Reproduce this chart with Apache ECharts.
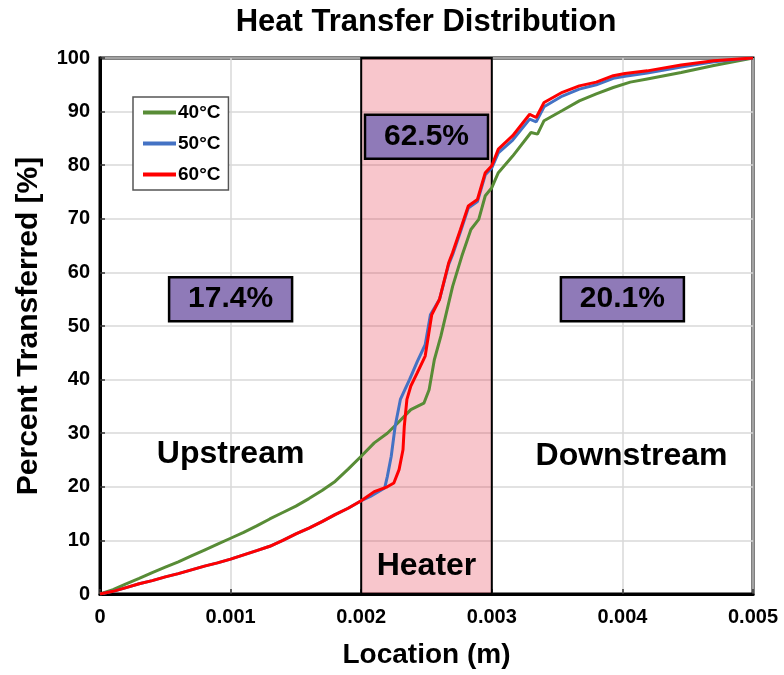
<!DOCTYPE html>
<html>
<head>
<meta charset="utf-8">
<script src="https://cdn.jsdelivr.net/npm/echarts@6/dist/echarts.min.js"></script>
<style>
  html, body { margin: 0; padding: 0; background: #fff; }
  #chart { width: 784px; height: 675px; }
</style>
</head>
<body>
<div id="chart"></div>
<script>
// data
const seriesNames = ['40°C', '50°C', '60°C'];

const loc40 = [0, 0.0001, 0.0002, 0.0003, 0.0004, 0.0005, 0.0006, 0.0007, 0.0008, 0.0009, 0.001,
  0.0011, 0.0012, 0.0013, 0.0014, 0.0015, 0.0016, 0.0017, 0.0018, 0.0019, 0.002,
  0.0021, 0.0022, 0.00228, 0.00238, 0.00248, 0.00252, 0.00256, 0.00261, 0.0027, 0.00277, 0.00284, 0.0029, 0.00295, 0.003,
  0.00305, 0.00316, 0.0033, 0.00335, 0.0034, 0.00354, 0.00367, 0.0038, 0.00393, 0.00406, 0.00419, 0.00432, 0.00445, 0.0047, 0.005];
const pct40 = [0, 0.8, 1.9, 2.9, 4.0, 5.0, 6.0, 7.1, 8.2, 9.3, 10.4,
  11.5, 12.7, 14.0, 15.2, 16.4, 17.8, 19.3, 21.0, 23.3, 25.7,
  28.2, 30.0, 31.9, 34.4, 35.6, 38.1, 43.7, 48.1, 57.4, 63.0, 68.0, 69.9, 74.3, 75.8,
  78.6, 81.7, 86.1, 85.8, 88.3, 90.2, 92.0, 93.3, 94.5, 95.5, 96.1, 96.7, 97.3, 98.6, 100];

const loc50 = [0, 0.0001, 0.0002, 0.0003, 0.0004, 0.0005, 0.0006, 0.0007, 0.0008, 0.0009, 0.001,
  0.0011, 0.0012, 0.0013, 0.0014, 0.0015, 0.0016, 0.0017, 0.0018, 0.0019, 0.002,
  0.00207, 0.00218, 0.0022, 0.00223, 0.00226, 0.0023, 0.00237, 0.00243, 0.00249, 0.00253, 0.0026, 0.00267, 0.0027, 0.00276, 0.00282, 0.00289, 0.00295, 0.003,
  0.00305, 0.00316, 0.00329, 0.00334, 0.0034, 0.00354, 0.00367, 0.0038, 0.00393, 0.00402, 0.00419, 0.00445, 0.0047, 0.005];
const pct50 = [0, 0.5, 1.2, 1.9, 2.5, 3.2, 3.8, 4.5, 5.2, 5.8, 6.5,
  7.3, 8.1, 8.9, 10.0, 11.2, 12.3, 13.5, 14.8, 16.0, 17.4,
  18.2, 19.8, 21.9, 25.7, 31.3, 36.3, 40.0, 43.4, 46.5, 52.1, 55.0, 61.5, 63.3, 67.6, 72.0, 73.2, 78.2, 79.5,
  82.3, 84.7, 88.6, 88.1, 90.9, 92.9, 94.2, 95.0, 96.2, 96.6, 97.2, 98.3, 99.3, 100];

const loc60 = [0, 0.0001, 0.0002, 0.0003, 0.0004, 0.0005, 0.0006, 0.0007, 0.0008, 0.0009, 0.001,
  0.0011, 0.0012, 0.0013, 0.0014, 0.0015, 0.0016, 0.0017, 0.0018, 0.0019, 0.002,
  0.0021, 0.0022, 0.00225, 0.00229, 0.00232, 0.00233, 0.00235, 0.00238, 0.00243, 0.00249, 0.00254, 0.0026, 0.00267, 0.0027, 0.00276, 0.00282, 0.00289, 0.00295, 0.003,
  0.00305, 0.00316, 0.00329, 0.00334, 0.0034, 0.00354, 0.00367, 0.0038, 0.00393, 0.00402, 0.00419, 0.00445, 0.0047, 0.005];
const pct60 = [0, 0.5, 1.2, 1.9, 2.5, 3.2, 3.8, 4.5, 5.2, 5.8, 6.5,
  7.3, 8.1, 8.9, 10.0, 11.2, 12.3, 13.5, 14.8, 16.0, 17.4,
  19.1, 20.0, 20.7, 23.2, 26.9, 31.3, 36.3, 38.8, 41.3, 44.4, 52.1, 55.0, 61.8, 63.7, 68.0, 72.4, 73.6, 78.6, 79.9,
  83.0, 85.5, 89.5, 88.9, 91.7, 93.6, 94.8, 95.5, 96.7, 97.1, 97.6, 98.7, 99.5, 100];

const heaterRange = [0.002, 0.003];
const boxLabels = ['17.4%', '62.5%', '20.1%'];
const boxAt = [[0.001, 55], [0.0025, 85.3], [0.004, 55]];
const regionLabels = ['Upstream', 'Downstream', 'Heater'];
const regionAt = [[0.001, 26], [0.00407, 25.8], [0.0025, 5.2]];

const FONT = '"Liberation Sans", Arial, sans-serif';
const colors = ['#588c36', '#4472c4', '#ff0000'];

function pairs(xs, ys) {
  return xs.map((x, i) => [x, ys[i]]);
}

const myChart = echarts.init(document.getElementById('chart'));

function lineSeries(name, xs, ys, color) {
  return {
    name: name,
    type: 'line',
    z: 3,
    showSymbol: false,
    symbol: 'none',
    smooth: false,
    lineStyle: { color: color, width: 3 },
    itemStyle: { color: color },
    data: pairs(xs, ys)
  };
}

const options = {
  animation: false,
  title: {
    text: 'Heat Transfer Distribution',
    left: 421,
    textAlign: 'center',
    top: 2,
    textStyle: { fontFamily: FONT, fontWeight: 'bold', fontSize: 31, color: '#000' }
  },
  legend: {
    orient: 'vertical',
    left: 133,
    top: 97,
    padding: [6, 8, 6, 10],
    itemGap: 12,
    itemWidth: 33,
    itemHeight: 4,
    icon: 'rect',
    backgroundColor: '#fff',
    borderColor: '#555',
    borderWidth: 1.5,
    textStyle: { fontFamily: FONT, fontWeight: 'bold', fontSize: 19, color: '#000', padding: [0, 0, 0, -3] },
    data: seriesNames
  },
  grid: {
    left: 100,
    right: 31,
    top: 58,
    bottom: 81,
    show: true,
    borderColor: '#000',
    borderWidth: 3
  },
  xAxis: {
    type: 'value',
    min: 0,
    max: 0.005,
    interval: 0.001,
    name: 'Location (m)',
    nameLocation: 'middle',
    nameGap: 47,
    nameTextStyle: { fontFamily: FONT, fontWeight: 'bold', fontSize: 28, color: '#000' },
    axisLine: { show: true, lineStyle: { color: '#000', width: 3 } },
    axisTick: { show: true, inside: true, length: 5, lineStyle: { color: '#333', width: 1.5 } },
    axisLabel: {
      margin: 13,
      fontFamily: FONT, fontWeight: 'bold', fontSize: 20, color: '#000',
      formatter: function (v) { return v === 0 ? '0' : v.toFixed(3); }
    },
    splitLine: { show: true, lineStyle: { color: '#d9d9d9', width: 1.5 } }
  },
  yAxis: {
    type: 'value',
    min: 0,
    max: 100,
    interval: 10,
    name: 'Percent Transferred [%]',
    nameLocation: 'middle',
    nameGap: 56,
    nameTextStyle: { fontFamily: FONT, fontWeight: 'bold', fontSize: 30, color: '#000' },
    axisLine: { show: true, lineStyle: { color: '#000', width: 3 } },
    axisTick: { show: true, inside: true, length: 5, lineStyle: { color: '#333', width: 1.5 } },
    axisLabel: { margin: 10, fontFamily: FONT, fontWeight: 'bold', fontSize: 20, color: '#000' },
    splitLine: { show: true, lineStyle: { color: '#d9d9d9', width: 1.5 } }
  },
  series: [
    lineSeries(seriesNames[0], loc40, pct40, colors[0]),
    lineSeries(seriesNames[1], loc50, pct50, colors[1]),
    lineSeries(seriesNames[2], loc60, pct60, colors[2]),
    {
      // translucent heater band laid over the curves
      name: 'heater',
      type: 'line',
      z: 5,
      data: [],
      silent: true,
      markArea: {
        silent: true,
        itemStyle: { color: 'rgba(227,27,51,0.25)', borderColor: '#000', borderWidth: 2 },
        data: [[{ xAxis: heaterRange[0] }, { xAxis: heaterRange[1] }]]
      }
    }
  ]
};
myChart.setOption(options, true);

// annotation boxes and region names, placed in data coordinates
const graphics = [];
boxLabels.forEach(function (t, i) {
  const p = myChart.convertToPixel({ gridIndex: 0 }, boxAt[i]);
  graphics.push({
    type: 'rect',
    z: 10,
    shape: { x: p[0] - 61.5, y: p[1] - 22, width: 123, height: 44 },
    style: { fill: '#8f7ab8', stroke: '#000', lineWidth: 2.5 }
  });
  graphics.push({
    type: 'text',
    z: 11,
    x: p[0],
    y: p[1],
    style: { text: t, align: 'center', verticalAlign: 'middle', font: 'bold 30px ' + FONT, fill: '#000' }
  });
});
regionLabels.forEach(function (t, i) {
  const p = myChart.convertToPixel({ gridIndex: 0 }, regionAt[i]);
  graphics.push({
    type: 'text',
    z: 11,
    x: p[0],
    y: p[1],
    style: { text: t, align: 'center', verticalAlign: 'middle', font: 'bold 32px ' + FONT, fill: '#000' }
  });
});
myChart.setOption({ graphic: graphics });
</script>
</body>
</html>
